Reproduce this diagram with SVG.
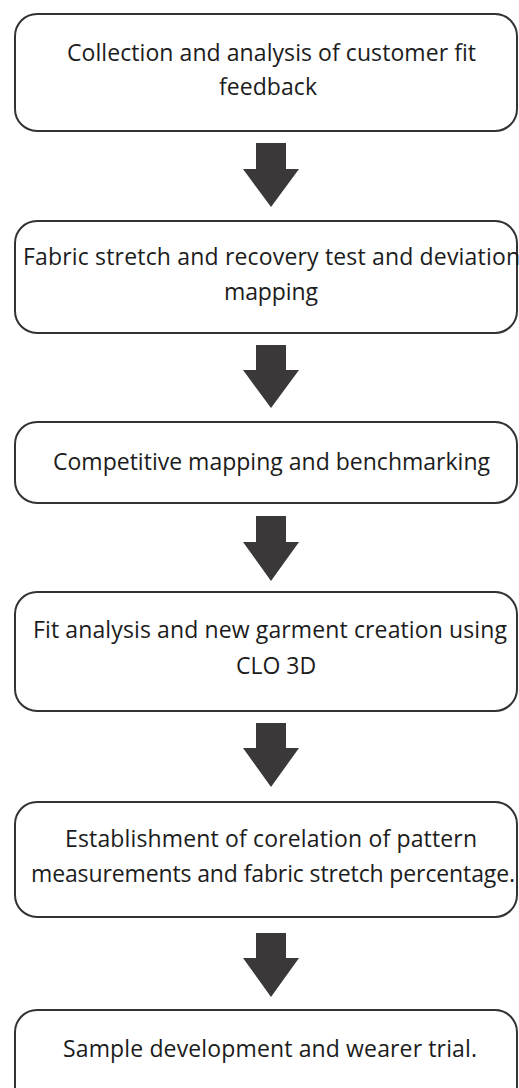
<svg xmlns="http://www.w3.org/2000/svg" width="519" height="1088" viewBox="0 0 519 1088">
<style>
.box{fill:#fff;stroke:#333;stroke-width:2}
.t{font-family:"Open Sans","Liberation Sans",sans-serif;font-size:23px;fill:#1c1c1c;text-anchor:middle}
.arr{fill:#3a3838}
</style>
<rect width="519" height="1088" fill="#fff"/>
<g id="connectors">
<polygon class="arr" points="256,143 286,143 286,169 299,169 271,207 243,169 256,169"/>
<polygon class="arr" points="256,345 286,345 286,370 299,370 271,408 243,370 256,370"/>
<polygon class="arr" points="256,516 286,516 286,542 299,542 271,581 243,542 256,542"/>
<polygon class="arr" points="256,723 286,723 286,748 299,748 271,787 243,748 256,748"/>
<polygon class="arr" points="256,933 286,933 286,958 299,958 271,997 243,958 256,958"/>
</g>
<g id="node1">
<rect class="box" x="15" y="14" width="502" height="117" rx="22"/>
<text class="t" x="271.5" y="61" textLength="409">Collection and analysis of customer fit</text>
<text class="t" x="268" y="95" textLength="98">feedback</text>
</g>
<g id="node2">
<rect class="box" x="15" y="221" width="502" height="112" rx="22"/>
<text class="t" x="271.5" y="265" textLength="497">Fabric stretch and recovery test and deviation</text>
<text class="t" x="271" y="300" textLength="94">mapping</text>
</g>
<g id="node3">
<rect class="box" x="15" y="422" width="502" height="81" rx="22"/>
<text class="t" x="271.5" y="470" textLength="437">Competitive mapping and benchmarking</text>
</g>
<g id="node4">
<rect class="box" x="15" y="592" width="502" height="119" rx="22"/>
<text class="t" x="270" y="638" textLength="474">Fit analysis and new garment creation using</text>
<text class="t" x="276" y="674">CLO 3D</text>
</g>
<g id="node5">
<rect class="box" x="15" y="802" width="502" height="115" rx="22"/>
<text class="t" x="271" y="847" textLength="412">Establishment of corelation of pattern</text>
<text class="t" x="273" y="882" textLength="484">measurements and fabric stretch percentage.</text>
</g>
<g id="node6">
<rect class="box" x="15" y="1010" width="502" height="100" rx="22"/>
<text class="t" x="270" y="1057" textLength="414">Sample development and wearer trial.</text>
</g>
</svg>
